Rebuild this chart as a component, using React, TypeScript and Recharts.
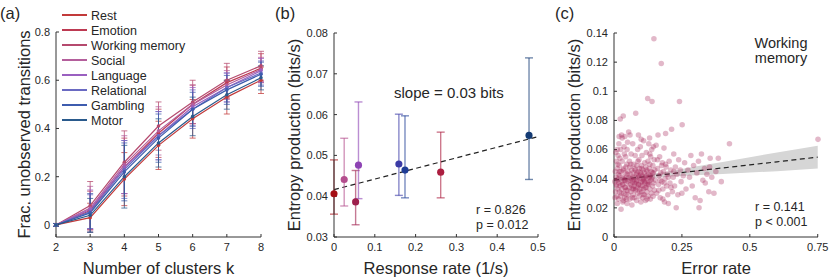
import {
  LineChart,
  Line,
  XAxis,
  YAxis,
  ZAxis,
  ErrorBar,
  ComposedChart,
  Scatter,
  Area,
} from "recharts";

const FONT = '"Liberation Sans", Arial, Helvetica, sans-serif';
const INK = "#262626";

// ---- panel (a): fraction of unobserved transitions vs k ----
const clusterK = [2, 3, 4, 5, 6, 7, 8];
const taskNames = ["Rest", "Emotion", "Working memory", "Social", "Language", "Relational", "Gambling", "Motor"];
const taskKeys = ["rest", "emotion", "wm", "social", "language", "relational", "gambling", "motor"];
const lineColors = ["#c23a3a", "#bd3a52", "#b54a6e", "#b45f9c", "#9a60c0", "#6a6ac2", "#3e5cae", "#2a5a8c"];

const fracMean = [
  [0, 0.03, 0.19, 0.33, 0.44, 0.53, 0.6],
  [0, 0.06, 0.24, 0.38, 0.5, 0.59, 0.65],
  [0, 0.08, 0.26, 0.41, 0.51, 0.6, 0.66],
  [0, 0.07, 0.25, 0.39, 0.5, 0.58, 0.645],
  [0, 0.065, 0.24, 0.37, 0.49, 0.57, 0.64],
  [0, 0.055, 0.23, 0.37, 0.48, 0.57, 0.63],
  [0, 0.05, 0.22, 0.36, 0.48, 0.56, 0.625],
  [0, 0.04, 0.2, 0.34, 0.45, 0.54, 0.61],
];
const fracSd = [
  [0.006, 0.06, 0.11, 0.1, 0.08, 0.07, 0.055],
  [0.006, 0.08, 0.12, 0.1, 0.08, 0.065, 0.06],
  [0.006, 0.1, 0.13, 0.1, 0.09, 0.07, 0.06],
  [0.006, 0.09, 0.12, 0.1, 0.08, 0.06, 0.05],
  [0.006, 0.08, 0.11, 0.1, 0.08, 0.06, 0.05],
  [0.006, 0.07, 0.12, 0.1, 0.08, 0.06, 0.05],
  [0.006, 0.08, 0.12, 0.1, 0.07, 0.06, 0.05],
  [0.006, 0.07, 0.13, 0.1, 0.08, 0.06, 0.05],
];

// ---- panel (b): entropy production vs response rate ----
const responseRate = [0, 0.2615, 0.053, 0.025, 0.06, 0.159, 0.174, 0.478];
const entropyMean = [0.0406, 0.0459, 0.0386, 0.0441, 0.0476, 0.0479, 0.0464, 0.0549];
const entropyLo = [0.0356, 0.0396, 0.033, 0.0376, 0.0394, 0.0402, 0.0396, 0.0441];
const entropyHi = [0.0489, 0.0557, 0.0463, 0.0542, 0.0631, 0.0601, 0.0597, 0.0739];
const dotColors = ["#a50f15", "#ac1e40", "#9e1f4c", "#b44e8e", "#8e43b4", "#3b3ba6", "#1f3d96", "#143b74"];
const rateFitX = [0, 0.5];
const rateFitY = [0.0416, 0.0546];

// ---- panel (c): working memory, entropy production vs error rate ----
const wmPoints: [number, number][] = [
  [0.003, 0.038], [0.005, 0.045], [0.006, 0.031], [0.008, 0.041], [0.009, 0.052], [0.01, 0.035],
  [0.011, 0.028], [0.012, 0.047], [0.013, 0.039], [0.014, 0.033], [0.015, 0.056], [0.016, 0.043],
  [0.017, 0.026], [0.018, 0.037], [0.019, 0.049], [0.02, 0.031], [0.021, 0.042], [0.022, 0.035],
  [0.023, 0.081], [0.024, 0.028], [0.025, 0.045], [0.026, 0.019], [0.027, 0.038], [0.028, 0.07],
  [0.029, 0.033], [0.03, 0.052], [0.031, 0.041], [0.032, 0.024], [0.033, 0.036], [0.034, 0.083],
  [0.035, 0.047], [0.036, 0.03], [0.037, 0.062], [0.038, 0.039], [0.039, 0.027], [0.04, 0.069],
  [0.041, 0.044], [0.042, 0.034], [0.043, 0.055], [0.044, 0.029], [0.045, 0.041], [0.046, 0.037],
  [0.047, 0.05], [0.048, 0.023], [0.049, 0.043], [0.05, 0.032], [0.004, 0.027], [0.007, 0.058],
  [0.012, 0.023], [0.015, 0.04], [0.018, 0.064], [0.02, 0.045], [0.022, 0.054], [0.027, 0.03],
  [0.03, 0.036], [0.033, 0.046], [0.035, 0.025], [0.038, 0.057], [0.04, 0.034], [0.042, 0.039],
  [0.044, 0.048], [0.046, 0.026], [0.048, 0.06], [0.03, 0.068], [0.025, 0.06], [0.014, 0.05],
  [0.009, 0.036], [0.036, 0.04], [0.045, 0.032], [0.019, 0.069], [0.012, 0.06], [0.05, 0.065],
  [0.051, 0.045], [0.052, 0.038], [0.053, 0.029], [0.054, 0.072], [0.055, 0.041], [0.056, 0.034],
  [0.057, 0.052], [0.058, 0.026], [0.059, 0.07], [0.06, 0.043], [0.061, 0.036], [0.062, 0.031],
  [0.063, 0.057], [0.064, 0.04], [0.065, 0.046], [0.066, 0.022], [0.067, 0.038], [0.068, 0.033],
  [0.069, 0.064], [0.07, 0.044], [0.071, 0.029], [0.072, 0.039], [0.073, 0.05], [0.074, 0.035],
  [0.075, 0.027], [0.076, 0.047], [0.077, 0.041], [0.078, 0.056], [0.079, 0.032], [0.08, 0.085],
  [0.081, 0.037], [0.082, 0.043], [0.083, 0.025], [0.084, 0.049], [0.085, 0.039], [0.086, 0.034],
  [0.087, 0.06], [0.088, 0.03], [0.089, 0.045], [0.09, 0.041], [0.091, 0.036], [0.092, 0.053],
  [0.093, 0.028], [0.094, 0.047], [0.095, 0.04], [0.096, 0.033], [0.097, 0.062], [0.098, 0.044],
  [0.099, 0.024], [0.1, 0.038], [0.101, 0.049], [0.102, 0.031], [0.103, 0.056], [0.104, 0.042],
  [0.105, 0.035], [0.106, 0.027], [0.107, 0.046], [0.108, 0.039], [0.109, 0.066], [0.11, 0.033],
  [0.111, 0.044], [0.112, 0.029], [0.113, 0.051], [0.114, 0.037], [0.115, 0.041], [0.116, 0.025],
  [0.117, 0.048], [0.118, 0.034], [0.119, 0.058], [0.12, 0.04], [0.121, 0.031], [0.122, 0.045],
  [0.123, 0.036], [0.124, 0.095], [0.125, 0.052], [0.126, 0.028], [0.127, 0.043], [0.128, 0.064],
  [0.129, 0.038], [0.13, 0.047], [0.131, 0.068], [0.132, 0.033], [0.133, 0.042], [0.134, 0.026],
  [0.135, 0.055], [0.136, 0.039], [0.137, 0.045], [0.138, 0.03], [0.139, 0.06], [0.14, 0.093],
  [0.141, 0.041], [0.142, 0.035], [0.143, 0.049], [0.144, 0.028], [0.145, 0.044], [0.146, 0.037],
  [0.147, 0.136], [0.148, 0.053], [0.149, 0.032], [0.15, 0.046], [0.06, 0.039], [0.065, 0.035],
  [0.07, 0.041], [0.075, 0.037], [0.08, 0.033], [0.085, 0.044], [0.09, 0.036], [0.095, 0.031],
  [0.1, 0.043], [0.105, 0.038], [0.11, 0.04], [0.115, 0.034], [0.12, 0.046], [0.125, 0.037],
  [0.13, 0.041], [0.058, 0.048], [0.068, 0.027], [0.078, 0.046], [0.088, 0.052], [0.098, 0.035],
  [0.108, 0.029], [0.118, 0.042], [0.128, 0.036], [0.138, 0.04], [0.062, 0.05], [0.072, 0.033],
  [0.082, 0.038], [0.092, 0.042], [0.102, 0.047], [0.112, 0.038], [0.122, 0.026], [0.132, 0.05],
  [0.142, 0.044], [0.09, 0.07], [0.1, 0.067], [0.145, 0.062], [0.132, 0.057], [0.152, 0.039],
  [0.155, 0.063], [0.157, 0.03], [0.16, 0.047], [0.162, 0.07], [0.164, 0.036], [0.166, 0.042],
  [0.168, 0.055], [0.17, 0.027], [0.172, 0.044], [0.174, 0.119], [0.176, 0.038], [0.178, 0.051],
  [0.18, 0.033], [0.182, 0.045], [0.184, 0.061], [0.186, 0.024], [0.188, 0.04], [0.19, 0.071],
  [0.192, 0.048], [0.194, 0.035], [0.196, 0.043], [0.198, 0.029], [0.2, 0.023], [0.203, 0.052],
  [0.206, 0.037], [0.209, 0.046], [0.212, 0.074], [0.215, 0.031], [0.218, 0.041], [0.22, 0.057],
  [0.223, 0.035], [0.226, 0.048], [0.229, 0.02], [0.232, 0.043], [0.235, 0.029], [0.238, 0.053],
  [0.241, 0.093], [0.244, 0.046], [0.247, 0.038], [0.25, 0.03], [0.251, 0.077], [0.16, 0.053],
  [0.17, 0.039], [0.18, 0.026], [0.19, 0.05], [0.2, 0.041], [0.21, 0.034], [0.22, 0.045],
  [0.165, 0.032], [0.175, 0.049], [0.185, 0.037], [0.255, 0.042], [0.26, 0.051], [0.265, 0.033],
  [0.272, 0.046], [0.278, 0.041], [0.283, 0.056], [0.288, 0.035], [0.293, 0.049], [0.299, 0.027],
  [0.305, 0.044], [0.311, 0.052], [0.313, 0.02], [0.317, 0.025], [0.322, 0.057], [0.327, 0.039],
  [0.333, 0.047], [0.336, 0.037], [0.342, 0.043], [0.349, 0.031], [0.352, 0.048], [0.354, 0.054],
  [0.36, 0.041], [0.368, 0.03], [0.375, 0.045], [0.384, 0.054], [0.395, 0.038], [0.425, 0.064],
  [0.751, 0.067],
];
const errFitX = [0, 0.1, 0.2, 0.3, 0.4, 0.5, 0.6, 0.75];
const errFitY = [0.039, 0.0411, 0.0432, 0.0453, 0.0474, 0.0495, 0.0516, 0.0548];
const errCiLo = [0.0374, 0.0399, 0.0414, 0.0423, 0.0433, 0.0442, 0.0452, 0.047];
const errCiHi = [0.0406, 0.0423, 0.045, 0.0483, 0.0515, 0.0548, 0.058, 0.0626];

const lineData = clusterK.map((k, j) => {
  const row: Record<string, number> = { k };
  taskKeys.forEach((key, i) => {
    row[key] = fracMean[i][j];
    row[key + "Err"] = fracSd[i][j];
  });
  return row;
});

const rateFitData = rateFitX.map((x, i) => ({ x, fit: rateFitY[i] }));
const errBandData = errFitX.map((x, i) => ({ x, fit: errFitY[i], band: [errCiLo[i], errCiHi[i]] }));
const wmData = wmPoints.map(([x, y]) => ({ x, y }));

const fmt = (v: number) => String(Number(v.toFixed(3)));
const tickStyle = { fontSize: 11, fill: INK, fontFamily: FONT };
const axisLabel = { fontSize: 16.5, fill: INK, fontFamily: FONT };
const axisStroke = { stroke: "#333" };

export default function App() {
  return (
    <div style={{ position: "absolute", left: 0, top: 0, width: 830, height: 279, background: "#fff", fontFamily: FONT }}>
      {/* (a) */}
      <div style={{ position: "absolute", left: 0, top: 0 }}>
        <LineChart width={275} height={279} data={lineData} margin={{ top: 32, right: 14, bottom: 0, left: 0 }}>
          <XAxis
            dataKey="k"
            type="number"
            domain={[2, 8]}
            ticks={clusterK}
            height={42}
            tickSize={-3}
            tickMargin={9}
            tick={tickStyle}
            axisLine={axisStroke}
            tickLine={axisStroke}
            label={{ value: "Number of clusters k", position: "insideBottom", offset: 5, style: axisLabel }}
          />
          <YAxis
            type="number"
            domain={[-0.05, 0.8]}
            ticks={[0, 0.2, 0.4, 0.6, 0.8]}
            tickFormatter={fmt}
            width={56}
            tickSize={-3}
            tickMargin={9}
            tick={tickStyle}
            axisLine={axisStroke}
            tickLine={axisStroke}
            label={{
              value: "Frac. unobserved transitions",
              angle: -90,
              position: "insideLeft",
              offset: 24,
              style: { ...axisLabel, textAnchor: "middle" },
            }}
          />
          {taskKeys.map((key, i) => (
            <Line
              key={key}
              dataKey={key}
              stroke={lineColors[i]}
              strokeWidth={1.2}
              dot={{ r: 1.8, fill: lineColors[i], stroke: "none" }}
              isAnimationActive={false}
            >
              <ErrorBar dataKey={key + "Err"} direction="y" width={3} stroke={lineColors[i]} strokeOpacity={0.75} strokeWidth={1} />
            </Line>
          ))}
        </LineChart>
      </div>

      {/* (b) */}
      <div style={{ position: "absolute", left: 270, top: 0 }}>
        <ComposedChart width={280} height={279} data={rateFitData} margin={{ top: 33, right: 12, bottom: 0, left: 0 }}>
          <XAxis
            dataKey="x"
            type="number"
            domain={[0, 0.5]}
            ticks={[0, 0.1, 0.2, 0.3, 0.4, 0.5]}
            tickFormatter={fmt}
            height={42}
            tickSize={-3}
            tickMargin={9}
            tick={tickStyle}
            axisLine={axisStroke}
            tickLine={axisStroke}
            label={{ value: "Response rate (1/s)", position: "insideBottom", offset: 5, style: axisLabel }}
          />
          <YAxis
            dataKey="y"
            type="number"
            domain={[0.03, 0.08]}
            ticks={[0.03, 0.04, 0.05, 0.06, 0.07, 0.08]}
            tickFormatter={fmt}
            width={64}
            tickSize={-3}
            tickMargin={9}
            tick={tickStyle}
            axisLine={axisStroke}
            tickLine={axisStroke}
            label={{
              value: "Entropy production (bits/s)",
              angle: -90,
              position: "insideLeft",
              offset: 24.5,
              style: { ...axisLabel, textAnchor: "middle" },
            }}
          />
          <ZAxis range={[40, 40]} />
          <Line dataKey="fit" stroke="#222" strokeWidth={1.2} strokeDasharray="5 3.5" dot={false} isAnimationActive={false} />
          {taskNames.map((name, i) => (
            <Scatter
              key={name}
              name={name}
              data={[
                {
                  x: responseRate[i],
                  y: entropyMean[i],
                  err: [entropyMean[i] - entropyLo[i], entropyHi[i] - entropyMean[i]],
                },
              ]}
              fill={dotColors[i]}
              isAnimationActive={false}
            >
              <ErrorBar dataKey="err" direction="y" width={4} stroke={dotColors[i]} strokeOpacity={0.6} strokeWidth={1.4} />
            </Scatter>
          ))}
        </ComposedChart>
      </div>

      {/* (c) */}
      <div style={{ position: "absolute", left: 550, top: 0 }}>
        <ComposedChart width={280} height={279} data={errBandData} margin={{ top: 33, right: 12, bottom: 0, left: 0 }}>
          <XAxis
            dataKey="x"
            type="number"
            domain={[0, 0.75]}
            ticks={[0, 0.25, 0.5, 0.75]}
            tickFormatter={fmt}
            height={42}
            tickSize={-3}
            tickMargin={9}
            tick={tickStyle}
            axisLine={axisStroke}
            tickLine={axisStroke}
            label={{ value: "Error rate", position: "insideBottom", offset: 5, style: axisLabel }}
          />
          <YAxis
            dataKey="y"
            type="number"
            domain={[0, 0.14]}
            ticks={[0, 0.02, 0.04, 0.06, 0.08, 0.1, 0.12, 0.14]}
            tickFormatter={fmt}
            width={64}
            tickSize={-3}
            tickMargin={9}
            tick={tickStyle}
            axisLine={axisStroke}
            tickLine={axisStroke}
            label={{
              value: "Entropy production (bits/s)",
              angle: -90,
              position: "insideLeft",
              offset: 24.5,
              style: { ...axisLabel, textAnchor: "middle" },
            }}
          />
          <ZAxis range={[24, 24]} />
          <Area dataKey="band" type="linear" stroke="none" fill="#d6d6d6" fillOpacity={1} isAnimationActive={false} />
          <Scatter data={wmData} fill="#a8285a" fillOpacity={0.33} isAnimationActive={false} />
          <Line dataKey="fit" stroke="#222" strokeWidth={1.2} strokeDasharray="5 3.5" dot={false} isAnimationActive={false} />
        </ComposedChart>
      </div>

      {/* panel letters, legend and annotations */}
      <svg
        width={830}
        height={279}
        style={{ position: "absolute", left: 0, top: 0, pointerEvents: "none" }}
        fontFamily={FONT}
        fill={INK}
      >
        <text x={0} y={19} fontSize={16.5}>(a)</text>
        <text x={275} y={19} fontSize={16.5}>(b)</text>
        <text x={555} y={19} fontSize={16.5}>(c)</text>

        {taskNames.map((name, i) => (
          <g key={name}>
            <line x1={62} x2={87} y1={15 + 15 * i} y2={15 + 15 * i} stroke={lineColors[i]} strokeWidth={2} />
            <text x={91} y={19.5 + 15 * i} fontSize={12.5}>{name}</text>
          </g>
        ))}

        <text x={394} y={98} fontSize={15}>slope = 0.03 bits</text>
        <text x={476} y={214} fontSize={12.5}>r = 0.826</text>
        <text x={476} y={228.5} fontSize={12.5}>p = 0.012</text>

        <text x={781} y={48} fontSize={14.5} textAnchor="middle">Working</text>
        <text x={781} y={62.5} fontSize={14.5} textAnchor="middle">memory</text>
        <text x={755} y={210.5} fontSize={12.5}>r = 0.141</text>
        <text x={755} y={226} fontSize={12.5}>p &lt; 0.001</text>
      </svg>
    </div>
  );
}
